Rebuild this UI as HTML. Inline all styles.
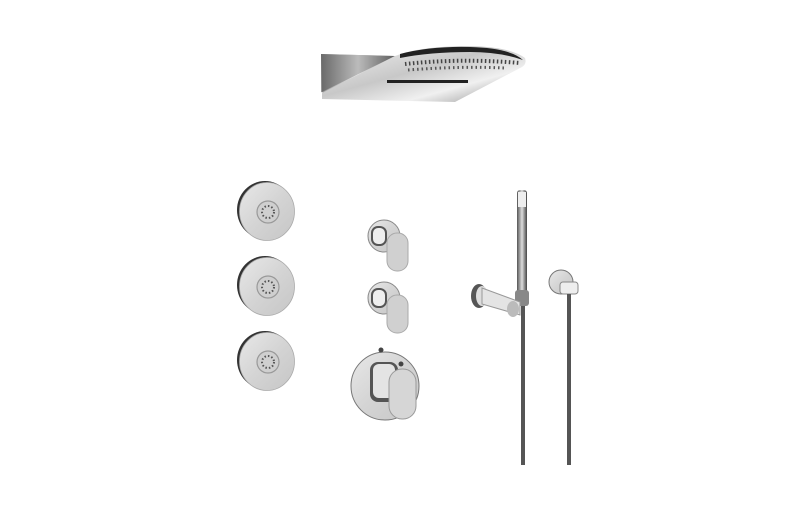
<!DOCTYPE html>
<html><head><style>html,body{margin:0;padding:0;background:#fff;}svg{display:block}</style></head>
<body>
<svg width="800" height="512" viewBox="0 0 800 512" xmlns="http://www.w3.org/2000/svg">
<defs>
<linearGradient id="m" x1="0" y1="0" x2="1" y2="1">
<stop offset="0" stop-color="#f4f4f4"/><stop offset="0.45" stop-color="#c8c8c8"/><stop offset="0.7" stop-color="#f0f0f0"/><stop offset="1" stop-color="#8a8a8a"/></linearGradient>
<linearGradient id="d" x1="0" y1="0" x2="1" y2="1">
<stop offset="0" stop-color="#e8e8e8"/><stop offset="0.5" stop-color="#d4d4d4"/><stop offset="1" stop-color="#c6c6c6"/></linearGradient>
<linearGradient id="h" x1="0" y1="0" x2="1" y2="0">
<stop offset="0" stop-color="#555"/><stop offset="0.5" stop-color="#ddd"/><stop offset="1" stop-color="#444"/></linearGradient>
<g id="jet">
<ellipse cx="-1" cy="-1" rx="28" ry="29" fill="#333"/>
<ellipse cx="1" cy="0.5" rx="27.5" ry="29" fill="url(#d)" stroke="#aaa" stroke-width="0.8"/>
<circle cx="2" cy="1" r="11" fill="#cfcfcf" stroke="#999" stroke-width="1.2"/>
<circle cx="2" cy="1" r="6" fill="none" stroke="#555" stroke-width="2" stroke-dasharray="1.5 2"/>
</g>
</defs>
<!-- rain head -->
<polygon points="321,54 395,56 322,92" fill="#888"/>
<polygon points="321,54 395,56 325,93 321,92" fill="url(#h)" opacity="0.6"/>
<path d="M395,56 Q420,46 470,46 Q510,47 525,58 Q527,64 522,67 L455,102 L322,99 L322,93 Z" fill="url(#m)"/>
<path d="M400,54 Q430,46 470,47 Q510,48 523,60 Q500,52 470,52 Q430,52 400,58 Z" fill="#222"/>
<path d="M405,64 Q460,58 520,63" stroke="#444" stroke-width="4" stroke-dasharray="1.5 2.5" fill="none"/>
<path d="M408,70 Q460,66 505,68" stroke="#555" stroke-width="3" stroke-dasharray="1.5 3" fill="none"/>
<rect x="387" y="80" width="81" height="3" fill="#222"/>
<!-- body jets -->
<use href="#jet" x="266" y="211"/>
<use href="#jet" x="266" y="286"/>
<use href="#jet" x="266" y="361"/>
<!-- valves -->
<g>
<circle cx="384" cy="236" r="16" fill="url(#d)" stroke="#888"/>
<rect x="371" y="226" width="16" height="20" rx="7" fill="#555"/>
<rect x="373" y="228" width="12" height="16" rx="5" fill="#eee"/>
<rect x="387" y="233" width="21" height="38" rx="10" fill="#d0d0d0" stroke="#aaa"/>
<circle cx="384" cy="298" r="16" fill="url(#d)" stroke="#888"/>
<rect x="371" y="288" width="16" height="20" rx="7" fill="#555"/>
<rect x="373" y="290" width="12" height="16" rx="5" fill="#eee"/>
<rect x="387" y="295" width="21" height="38" rx="10" fill="#d0d0d0" stroke="#aaa"/>
<circle cx="385" cy="386" r="34" fill="url(#d)" stroke="#777"/>
<rect x="370" y="362" width="28" height="40" rx="8" fill="#555"/>
<rect x="373" y="364" width="22" height="34" rx="6" fill="#e4e4e4"/>
<rect x="389" y="369" width="27" height="50" rx="13" fill="#d6d6d6" stroke="#999"/>
<circle cx="381" cy="350" r="2.5" fill="#444"/>
<circle cx="401" cy="364" r="2.5" fill="#444"/>
</g>
<!-- hand shower -->
<rect x="517" y="190" width="10" height="110" rx="3" fill="url(#h)"/>
<rect x="518" y="192" width="8" height="15" fill="#eee"/>
<rect x="521" y="300" width="4" height="165" fill="#555"/>
<rect x="515" y="290" width="14" height="16" rx="3" fill="#888"/>
<ellipse cx="479" cy="296" rx="8" ry="12" fill="#555"/>
<ellipse cx="482" cy="296" rx="6" ry="10" fill="#ddd"/>
<polygon points="482,288 520,302 520,315 482,304" fill="#e4e4e4" stroke="#999"/>
<ellipse cx="513" cy="309" rx="6" ry="8" fill="#bbb"/>
<!-- wall outlet -->
<circle cx="561" cy="282" r="12" fill="url(#d)" stroke="#777"/>
<rect x="560" y="282" width="18" height="12" rx="3" fill="#eee" stroke="#888"/>
<rect x="567" y="294" width="4" height="171" fill="#555"/>
</svg>
</body></html>
